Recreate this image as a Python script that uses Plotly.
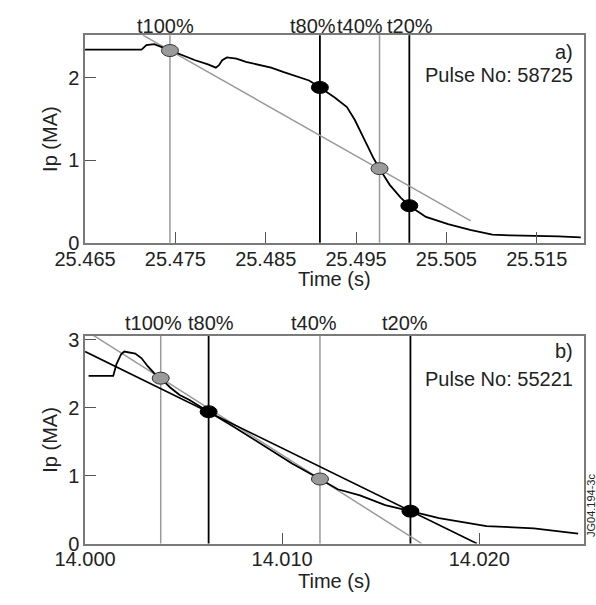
import plotly.graph_objects as go

# ---------------- data ----------------
# Panel a) Pulse No: 58725
time_a = [25.4650, 25.47126, 25.47179, 25.47266, 25.47336, 25.47441, 25.47581, 25.47720,
          25.47861, 25.47948, 25.47983, 25.48018, 25.48071, 25.48176, 25.48281, 25.48420,
          25.48560, 25.48700, 25.48840, 25.48980, 25.49102, 25.49260, 25.49399, 25.49487,
          25.49609, 25.49697, 25.49760, 25.49871, 25.49994, 25.50089, 25.50274, 25.50519,
          25.50763, 25.51009, 25.51219, 25.51500, 25.51743, 25.51988]
ip_a = [2.345, 2.345, 2.40, 2.41, 2.38, 2.333, 2.27, 2.215,
        2.165, 2.125, 2.156, 2.215, 2.25, 2.235, 2.196, 2.165,
        2.125, 2.07, 2.02, 1.97, 1.885, 1.765, 1.647, 1.49,
        1.215, 1.019, 0.90, 0.706, 0.548, 0.45, 0.313, 0.227,
        0.156, 0.098, 0.089, 0.086, 0.078, 0.066]
markers_a_label = ["t100%", "t80%", "t40%", "t20%"]
markers_a_t = [25.4744, 25.4910, 25.4976, 25.5009]
markers_a_ip = [2.333, 1.885, 0.90, 0.45]
markers_a_gray = [True, False, True, False]
fit_a_t = [25.4714, 25.5077]
fit_a_ip = [2.52, 0.266]

# Panel b) Pulse No: 55221
time_b = [14.00018, 14.00143, 14.00159, 14.00183, 14.00199, 14.00226, 14.00255, 14.00287,
          14.00319, 14.00351, 14.00384, 14.00432, 14.00480, 14.00528, 14.00594, 14.00627,
          14.00750, 14.00900, 14.01050, 14.01192, 14.01234, 14.01282, 14.01395, 14.01523,
          14.01651, 14.01796, 14.02037, 14.02277, 14.02502]
ip_b = [2.47, 2.47, 2.64, 2.79, 2.83, 2.82, 2.80, 2.73,
        2.61, 2.51, 2.437, 2.30, 2.19, 2.12, 2.0, 1.943,
        1.73, 1.45, 1.18, 0.951, 0.876, 0.80, 0.71, 0.567,
        0.477, 0.376, 0.257, 0.224, 0.147]
markers_b_label = ["t100%", "t80%", "t40%", "t20%"]
markers_b_t = [14.00384, 14.00627, 14.01192, 14.01651]
markers_b_ip = [2.437, 1.943, 0.951, 0.477]
markers_b_gray = [True, False, True, False]
fit_b_gray_t = [14.0000, 14.01708]
fit_b_gray_ip = [3.147, 0.0]
fit_b_black_t = [14.0000, 14.01988]
fit_b_black_ip = [2.83, 0.0]

xticks_a = [25.465, 25.475, 25.485, 25.495, 25.505, 25.515]
yticks_a = [0, 1, 2]
xticks_b = [14.000, 14.010, 14.020]
yticks_b = [0, 1, 2, 3]

# ---------------- styling ----------------
W, H = 596, 605
FONT = "Liberation Sans, Arial, Helvetica, sans-serif"
FS = 20
GRAY = "#9a9a9a"
FRAME = "#7a7a7a"
TXT = "#222222"

def py(p):
    return 1 - p / H

def px(p):
    return p / W

fig = go.Figure()

# Panel a traces
fig.add_trace(go.Scatter(x=fit_a_t, y=fit_a_ip, mode="lines",
                         line=dict(color=GRAY, width=1.5), xaxis="x", yaxis="y"))
fig.add_trace(go.Scatter(x=time_a, y=ip_a, mode="lines",
                         line=dict(color="black", width=1.8), xaxis="x", yaxis="y"))
# Panel b traces
fig.add_trace(go.Scatter(x=fit_b_gray_t, y=fit_b_gray_ip, mode="lines",
                         line=dict(color=GRAY, width=1.5), xaxis="x2", yaxis="y2"))
fig.add_trace(go.Scatter(x=fit_b_black_t, y=fit_b_black_ip, mode="lines",
                         line=dict(color="black", width=1.6), xaxis="x2", yaxis="y2"))
fig.add_trace(go.Scatter(x=time_b, y=ip_b, mode="lines",
                         line=dict(color="black", width=1.8), xaxis="x2", yaxis="y2"))

shapes = []
annotations = []

def add_markers(ts, ips, grays, labels, xr, yr, label_y, shifts):
    for t, v, g, lab, sh in zip(ts, ips, grays, labels, shifts):
        shapes.append(dict(type="line", xref=xr, yref=yr + " domain", x0=t, x1=t, y0=0, y1=1,
                           line=dict(color=GRAY if g else "black", width=1.5 if g else 1.8),
                           layer="below"))
        shapes.append(dict(type="circle", xref=xr, yref=yr, xsizemode="pixel", ysizemode="pixel",
                           xanchor=t, yanchor=v, x0=-8.5, x1=8.5, y0=-6, y1=6,
                           fillcolor=GRAY if g else "black",
                           line=dict(color="#333333" if g else "black", width=1), layer="above"))
        annotations.append(dict(text=lab, xref=xr, yref="paper", x=t, y=py(label_y),
                                xshift=sh, showarrow=False, xanchor="center", yanchor="middle",
                                font=dict(family=FONT, size=FS, color=TXT)))

add_markers(markers_a_t, markers_a_ip, markers_a_gray, markers_a_label, "x", "y", 20, [-4, -7, -20, 1])
add_markers(markers_b_t, markers_b_ip, markers_b_gray, markers_b_label, "x2", "y2", 326, [-7, 2, -6, -5])

def text(s, x, y, xanchor="center", size=FS, angle=0):
    annotations.append(dict(text=s, xref="paper", yref="paper", x=px(x), y=py(y),
                            showarrow=False, xanchor=xanchor, yanchor="middle", textangle=angle,
                            font=dict(family=FONT, size=size, color=TXT)))

text("a)", 574, 46, "right")
text("Pulse No: 58725", 574, 70, "right")
text("b)", 574, 355, "right")
text("Pulse No: 55221", 574, 383, "right")
text("Time (s)", 320, 280)
text("Time (s)", 320, 592)
text("Ip (MA)", 20, 136, angle=-90)
text("Ip (MA)", 20, 446, angle=-90)
text("JG04.194-3c", 590, 514, size=11, angle=-90)

axis_common = dict(showgrid=False, zeroline=False, showline=True, linecolor=FRAME, linewidth=1.5,
                   mirror=True, ticks="inside", ticklen=11, tickwidth=1.2, tickcolor="#555555",
                   tickfont=dict(family=FONT, size=FS, color=TXT))

fig.update_layout(
    width=W, height=H, margin=dict(l=0, r=0, t=0, b=0),
    paper_bgcolor="white", plot_bgcolor="white", showlegend=False,
    xaxis=dict(axis_common, domain=[px(57), px(583)], range=[25.465, 25.5202],
               tickvals=xticks_a, tickformat=".3f", anchor="y", ticklabelstandoff=-3),
    yaxis=dict(axis_common, domain=[py(243), py(29)], range=[0, 2.52],
               tickvals=yticks_a, anchor="x"),
    xaxis2=dict(axis_common, domain=[px(57), px(583)], range=[14.000, 14.0253],
                tickvals=xticks_b, tickformat=".3f", anchor="y2", ticklabelstandoff=-3),
    yaxis2=dict(axis_common, domain=[py(553), py(339)], range=[0, 3.06],
                tickvals=yticks_b, anchor="x2"),
    shapes=shapes, annotations=annotations,
)

fig.write_html("out.html")
